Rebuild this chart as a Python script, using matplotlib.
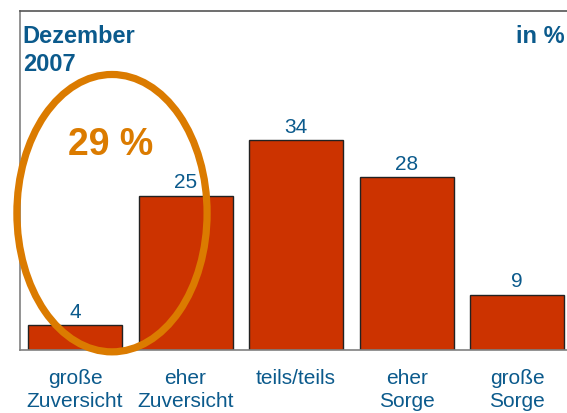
import matplotlib
matplotlib.use("Agg")
from matplotlib import pyplot as plt
from matplotlib.patches import Ellipse
import numpy as np

categories = ["große\nZuversicht", "eher\nZuversicht", "teils/teils", "eher\nSorge", "große\nSorge"]
values = [4, 25, 34, 28, 9]
highlight_label = "29 %"
title = "Dezember\n2007"
unit_label = "in %"

bar_color = "#CC3300"
text_blue = "#0B5A8C"
orange = "#DB7B00"

plt.rcParams['font.family'] = ['Liberation Sans', 'DejaVu Sans']

fig = plt.figure(figsize=(5.67, 4.13), dpi=100)
ax = fig.add_axes([20 / 567, 63 / 413, 547 / 567, 339 / 413])

x = np.arange(len(values))
bars = ax.bar(x, values, width=0.85, color=bar_color, edgecolor="#222222", linewidth=1.0, zorder=2)

for xi, v in zip(x, values):
    ax.text(xi, v + 0.6, str(v), ha="center", va="bottom", fontsize=15, color=text_blue)

ax.set_xlim(-0.497, 4.45)
ax.set_ylim(0, 55)

ax.set_xticks(x)
ax.set_xticklabels(categories, fontsize=15, color=text_blue, linespacing=1.25)
ax.tick_params(axis="x", length=0, pad=14)
ax.set_yticks([])

for side in ["left", "bottom", "top"]:
    ax.spines[side].set_color("#808080")
    ax.spines[side].set_linewidth(1.2)
ax.spines["top"].set_color("#555555")
ax.spines["right"].set_visible(False)

ax.text(0.005, 0.96, title, transform=ax.transAxes, ha="left", va="top",
        fontsize=17, fontweight="bold", color=text_blue, linespacing=1.3)
ax.text(0.995, 0.96, unit_label, transform=ax.transAxes, ha="right", va="top",
        fontsize=17, fontweight="bold", color=text_blue)

ell = Ellipse((0.335, 22.2), 1.72, 45, fill=False, edgecolor=orange, linewidth=5.2,
              clip_on=False, zorder=3)
ax.add_patch(ell)
ax.text(0.32, 33.2, highlight_label, ha="center", va="center", fontsize=27,
        fontweight="bold", color=orange, zorder=4)

fig.savefig("out.png", dpi=100)
